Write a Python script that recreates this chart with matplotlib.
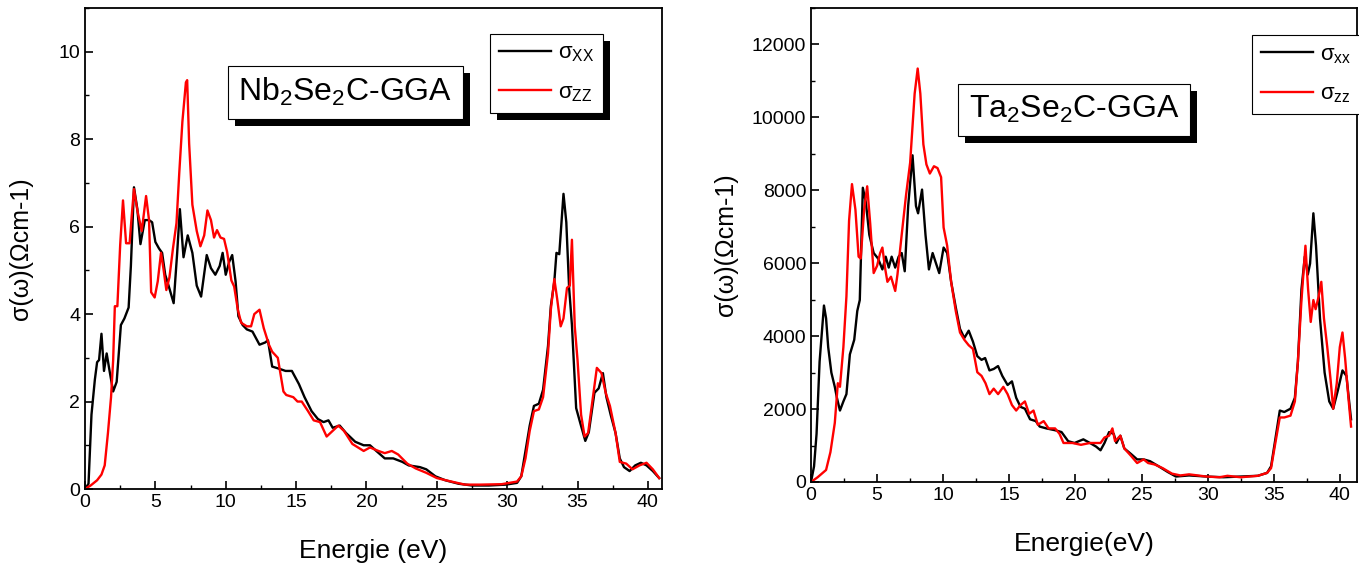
import numpy as np
import matplotlib
matplotlib.use("Agg")
import matplotlib.pyplot as plt
import matplotlib.patheffects as pe
from matplotlib.ticker import MultipleLocator

plt.rcParams['font.family'] = ['Liberation Sans', 'DejaVu Sans']
plt.rcParams['mathtext.fontset'] = 'custom'
plt.rcParams['mathtext.rm'] = 'Liberation Sans'
plt.rcParams['mathtext.it'] = 'Liberation Sans'

# ---- Nb2Se2C (left panel) ----
nb_xx_e = [0, 0.25, 0.46, 0.7, 0.86, 1.0, 1.17, 1.35, 1.54, 1.72, 2.0, 2.25, 2.55, 2.8, 3.1,
           3.26, 3.48, 3.72, 3.94, 4.25, 4.55, 4.77, 5.0, 5.26, 5.48, 5.7, 5.94, 6.3, 6.55,
           6.74, 7.0, 7.3, 7.63, 7.94, 8.25, 8.65, 8.95, 9.26, 9.57, 9.78, 10.0, 10.25,
           10.46, 10.7, 10.9, 11.2, 11.5, 11.9, 12.4, 12.8, 13.0, 13.3, 13.8, 14.25, 14.7,
           15.2, 15.6, 16.1, 16.55, 16.95, 17.3, 17.6, 18.1, 18.55, 19.2, 19.8, 20.25, 20.7,
           21.3, 21.9, 22.55, 23.0, 23.8, 24.25, 24.9, 25.6, 26.55, 27.5, 28.7, 29.9, 30.7,
           31.0, 31.3, 31.6, 31.9, 32.25, 32.55, 32.9, 33.1, 33.35, 33.5, 33.7, 34.0, 34.2,
           34.4, 34.6, 34.9, 35.2, 35.55, 35.8, 36.2, 36.5, 36.8, 37.05, 37.35, 37.7, 38.0,
           38.3, 38.7, 39.1, 39.5, 39.9, 40.35, 40.8]
nb_xx = [0, 0.12, 1.7, 2.5, 2.9, 2.95, 3.55, 2.7, 3.1, 2.75, 2.23, 2.45, 3.75, 3.9, 4.15,
         5.1, 6.9, 6.4, 5.6, 6.15, 6.15, 6.1, 5.65, 5.5, 5.4, 4.9, 4.65, 4.25, 5.4,
         6.4, 5.3, 5.8, 5.4, 4.65, 4.4, 5.35, 5.05, 4.9, 5.1, 5.4, 4.9, 5.2,
         5.35, 4.75, 3.95, 3.75, 3.65, 3.6, 3.3, 3.35, 3.4, 2.8, 2.75, 2.7, 2.7,
         2.4, 2.1, 1.78, 1.6, 1.53, 1.57, 1.4, 1.45, 1.28, 1.08, 1.0, 1.0, 0.87,
         0.7, 0.7, 0.62, 0.54, 0.5, 0.45, 0.29, 0.2, 0.12, 0.08, 0.08, 0.1, 0.14,
         0.29, 0.87, 1.45, 1.9, 1.95, 2.27, 3.27, 4.18, 4.75, 5.4, 5.37, 6.75, 6.1,
         4.6, 3.75, 1.85, 1.5, 1.1, 1.3, 2.2, 2.3, 2.65, 2.1, 1.7, 1.28, 0.7,
         0.5, 0.41, 0.54, 0.6, 0.54, 0.41, 0.25]

nb_zz_e = [0, 0.4, 0.86, 1.17, 1.4, 1.63, 1.85, 2.0, 2.12, 2.3, 2.5, 2.7, 2.92, 3.17, 3.32,
           3.48, 3.72, 4.03, 4.34, 4.55, 4.7, 4.95, 5.17, 5.4, 5.57, 5.78, 6.0, 6.25, 6.5,
           6.7, 6.92, 7.17, 7.26, 7.4, 7.63, 7.94, 8.2, 8.47, 8.7, 8.95, 9.17, 9.38, 9.63,
           9.88, 10.1, 10.4, 10.6, 10.86, 11.1, 11.5, 11.8, 12.03, 12.4, 12.7, 13.07, 13.3,
           13.7, 14.1, 14.3, 14.8, 15.1, 15.4, 15.85, 16.25, 16.7, 17.17, 17.6, 18.0, 18.4,
           19.0, 19.8, 20.25, 20.85, 21.3, 21.8, 22.25, 22.9, 23.5, 24.25, 25.0, 25.9, 27.0,
           28.1, 29.6, 30.7, 31.0, 31.3, 31.6, 31.9, 32.25, 32.55, 32.9, 33.1, 33.35, 33.55,
           33.8, 34.0, 34.25, 34.45, 34.6, 34.8, 35.0, 35.25, 35.5, 35.75, 36.05, 36.37,
           36.7, 37.0, 37.3, 37.7, 38.0, 38.46, 38.9, 39.4, 39.9, 40.35, 40.8]
nb_zz = [0, 0.08, 0.2, 0.33, 0.54, 1.28, 2.1, 2.94, 4.18, 4.18, 5.58, 6.6, 5.62, 5.62, 6.25,
         6.86, 6.37, 5.9, 6.7, 6.15, 4.5, 4.38, 4.75, 5.4, 5.05, 4.55, 4.84, 5.5, 6.08,
         7.24, 8.4, 9.3, 9.35, 7.9, 6.5, 5.9, 5.55, 5.8, 6.37, 6.15, 5.75, 5.92, 5.75,
         5.72, 5.42, 4.77, 4.63, 4.1, 3.8, 3.72, 3.72, 4.0, 4.1, 3.68, 3.3, 3.14,
         3.0, 2.23, 2.15, 2.1, 2.0, 2.0, 1.78, 1.57, 1.53, 1.2, 1.33, 1.45, 1.33,
         1.03, 0.87, 0.95, 0.87, 0.82, 0.87, 0.79, 0.58, 0.47, 0.37, 0.25, 0.18, 0.1,
         0.1, 0.11, 0.17, 0.29, 0.7, 1.33, 1.78, 1.82, 2.1, 3.1, 4.1, 4.8, 4.35,
         3.72, 3.9, 4.6, 4.65, 5.7, 3.72, 2.94, 1.7, 1.2, 1.28, 2.0, 2.77,
         2.65, 2.2, 1.9, 1.28, 0.62, 0.58, 0.45, 0.54, 0.6, 0.45, 0.25]

# ---- Ta2Se2C (right panel) ----
ta_xx_e = [0, 0.23, 0.42, 0.65, 0.98, 1.14, 1.3, 1.54, 1.8, 1.96, 2.19, 2.45, 2.68, 2.94,
           3.27, 3.5, 3.69, 3.92, 4.15, 4.41, 4.74, 5.07, 5.4, 5.65, 5.88, 6.1, 6.37, 6.63,
           6.86, 7.09, 7.35, 7.68, 7.94, 8.1, 8.4, 8.66, 8.92, 9.2, 9.47, 9.7, 10.03, 10.3,
           10.6, 10.95, 11.27, 11.6, 11.93, 12.25, 12.58, 12.9, 13.17, 13.5, 13.82, 14.15,
           14.47, 14.87, 15.2, 15.52, 15.85, 16.18, 16.57, 17.0, 17.3, 17.8, 18.46, 18.95,
           19.45, 19.93, 20.6, 21.1, 21.57, 21.9, 22.2, 22.55, 22.9, 23.1, 23.4, 23.7, 24.2,
           24.67, 25.16, 25.65, 26.3, 26.96, 27.6, 28.6, 29.9, 31.2, 32.5, 33.8, 34.5, 34.8,
           35.1, 35.46, 35.8, 36.27, 36.6, 36.83, 37.1, 37.35, 37.58, 37.75, 38.0, 38.2,
           38.5, 38.85, 39.2, 39.5, 39.85, 40.2, 40.5, 40.85]
ta_xx = [0, 430, 1320, 3300, 4840, 4490, 3700, 3000, 2610, 2310, 1960, 2210, 2410, 3500,
         3900, 4690, 4990, 8070, 7670, 6780, 6280, 6130, 5830, 6180, 5880, 6180, 5880, 6180,
         6280, 5780, 7570, 8960, 7570, 7370, 8020, 6780, 5830, 6280, 5980, 5730, 6430, 6280,
         5490, 4790, 4200, 3950, 4150, 3850, 3450, 3350, 3400, 3060, 3100, 3180,
         2910, 2660, 2760, 2310, 2060, 2010, 1720, 1670, 1520, 1470, 1420, 1370,
         1120, 1070, 1170, 1070, 970, 870, 1070, 1370, 1320, 1070, 1270, 920, 770,
         620, 620, 570, 430, 280, 150, 180, 150, 130, 150, 170, 250, 430,
         1120, 1960, 1920, 2010, 2310, 3300, 5290, 6180, 5690, 5990, 7370, 6480,
         4490, 3000, 2210, 2010, 2510, 3060, 2910, 1720]

ta_zz_e = [0, 0.5, 1.14, 1.47, 1.8, 2.03, 2.19, 2.45, 2.68, 2.88, 3.1, 3.36, 3.6, 3.76, 4.02,
           4.25, 4.48, 4.74, 5.0, 5.23, 5.4, 5.62, 5.78, 6.05, 6.37, 6.54, 6.86, 7.19, 7.5,
           7.84, 8.07, 8.27, 8.5, 8.73, 8.99, 9.3, 9.57, 9.84, 10.03, 10.3, 10.6, 10.95,
           11.27, 11.6, 11.93, 12.25, 12.58, 12.9, 13.2, 13.5, 13.82, 14.15, 14.55, 14.87,
           15.2, 15.52, 15.85, 16.18, 16.5, 16.83, 17.16, 17.6, 17.97, 18.46, 18.8, 19.1,
           19.77, 20.42, 21.1, 21.9, 22.2, 22.55, 22.8, 23.0, 23.4, 23.7, 24.2, 24.67, 25.16,
           25.5, 26.0, 26.6, 27.3, 27.94, 28.6, 29.9, 30.9, 31.5, 32.5, 33.8, 34.5, 34.8,
           35.1, 35.46, 35.8, 36.27, 36.6, 36.83, 37.1, 37.4, 37.6, 37.8, 38.0, 38.17, 38.4,
           38.6, 38.8, 39.05, 39.3, 39.5, 39.77, 40.0, 40.2, 40.4, 40.65, 40.85]
ta_zz = [0, 130, 330, 820, 1620, 2710, 2610, 3700, 5090, 7170, 8170, 7470, 6180, 6130, 7470,
         8110, 7080, 5730, 5930, 6280, 6430, 5830, 5490, 5630, 5240, 5690, 6780, 7870, 8760,
         10650, 11340, 10650, 9260, 8710, 8460, 8660, 8610, 8360, 6980, 6480, 5490, 4690,
         4100, 3900, 3750, 3650, 3010, 2910, 2710, 2410, 2560, 2410, 2610, 2410,
         2110, 1960, 2110, 2210, 1870, 1960, 1570, 1670, 1470, 1470, 1320, 1070,
         1070, 1020, 1070, 1070, 1220, 1270, 1470, 1120, 1270, 920, 720, 520, 620,
         520, 480, 380, 230, 180, 210, 150, 130, 170, 130, 170, 250, 380,
         1020, 1770, 1770, 1820, 2210, 3300, 4990, 6480, 5290, 4390, 4990, 4740, 5090,
         5490, 4490, 3700, 2810, 2010, 2710, 3700, 4100, 3400, 2310, 1520]


def style_axes(ax, xmax, ymax, ymajor, yminor):
    ax.set_xlim(0, xmax)
    ax.set_ylim(0, ymax)
    ax.xaxis.set_major_locator(MultipleLocator(5))
    ax.xaxis.set_minor_locator(MultipleLocator(2.5))
    ax.yaxis.set_major_locator(MultipleLocator(ymajor))
    ax.yaxis.set_minor_locator(MultipleLocator(yminor))
    ax.tick_params(which='both', direction='in', top=False, right=False, labelsize=14)
    ax.tick_params(which='major', length=6, width=1.2)
    ax.tick_params(which='minor', length=3, width=1.0)
    for s in ax.spines.values():
        s.set_linewidth(1.3)


def shadow_box(ax, x, y, label):
    t = ax.text(x, y, label, transform=ax.transAxes, ha='center', va='center',
                fontsize=23,
                bbox=dict(boxstyle='square,pad=0.33', fc='white', ec='black', lw=0.8))
    t.get_bbox_patch().set_path_effects(
        [pe.SimplePatchShadow(offset=(5, -5), shadow_rgbFace='black', alpha=1),
         pe.Normal()])
    return t


def add_legend(ax, anchor, shadow):
    leg = ax.legend(loc='upper left', bbox_to_anchor=anchor, borderaxespad=0,
                    fancybox=False, edgecolor='black', framealpha=1, fontsize=16,
                    handlelength=2.35, labelspacing=0.8, borderpad=0.4,
                    handletextpad=0.3)
    leg.get_frame().set_linewidth(0.8)
    if shadow:
        leg.get_frame().set_path_effects(
            [pe.SimplePatchShadow(offset=(5, -5), shadow_rgbFace='black', alpha=1),
             pe.Normal()])
    return leg


fig = plt.figure(figsize=(13.59, 5.68), dpi=100)
ax1 = fig.add_axes([85 / 1359, 1 - 489 / 568, 577 / 1359, 481 / 568])
ax2 = fig.add_axes([811 / 1359, 1 - 482 / 568, 546 / 1359, 474 / 568])

ax1.plot(nb_xx_e, nb_xx, color='black', lw=1.7, label=r'$\sigma_{XX}$')
ax1.plot(nb_zz_e, nb_zz, color='red', lw=1.7, label=r'$\sigma_{ZZ}$')
style_axes(ax1, 41, 11, 2, 1)
ax1.set_xlabel('Energie (eV)', fontsize=19, labelpad=20)
ax1.set_ylabel(u'σ(ω)(Ωcm-1)', fontsize=18, labelpad=18)
shadow_box(ax1, 0.451, 0.825, r'Nb$_2$Se$_2$C-GGA')
add_legend(ax1, (0.702, 0.946), True)

ax2.plot(ta_xx_e, ta_xx, color='black', lw=1.7, label=r'$\sigma_{xx}$')
ax2.plot(ta_zz_e, ta_zz, color='red', lw=1.7, label=r'$\sigma_{zz}$')
style_axes(ax2, 41.3, 13000, 2000, 1000)
ax2.set_xlabel('Energie(eV)', fontsize=19, labelpad=20)
ax2.set_ylabel(u'σ(ω)(Ωcm-1)', fontsize=18, labelpad=10)
shadow_box(ax2, 0.482, 0.785, r'Ta$_2$Se$_2$C-GGA')
add_legend(ax2, (0.808, 0.943), False)

fig.savefig('out.png', dpi=100)
